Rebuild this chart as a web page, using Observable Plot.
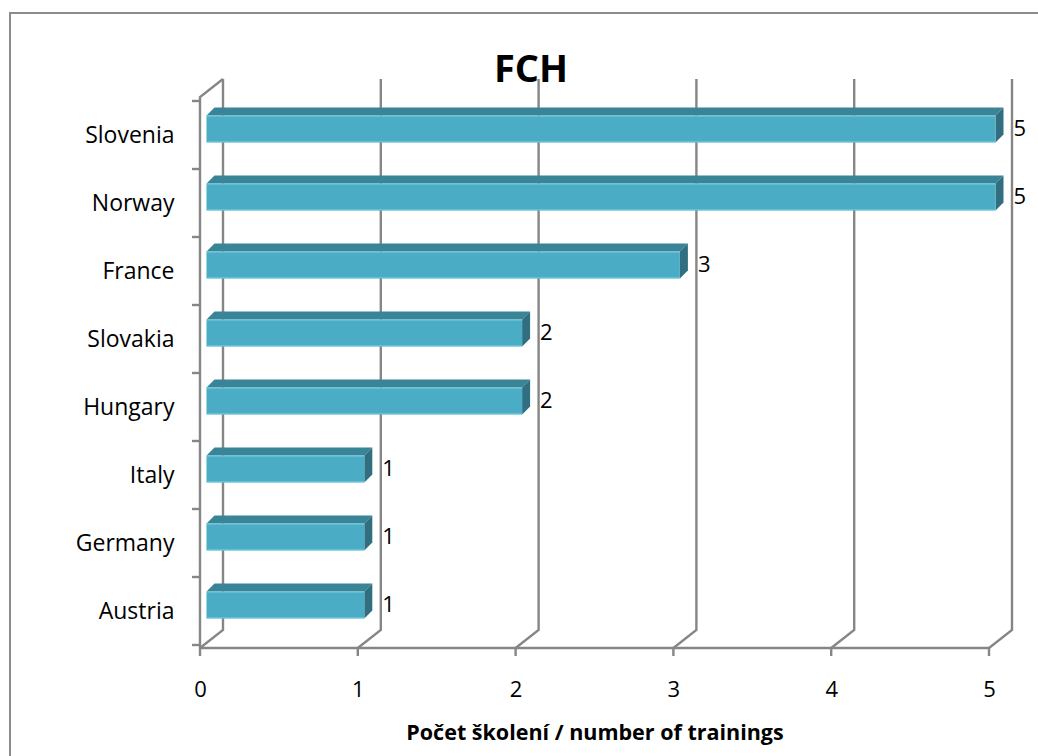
<!DOCTYPE html>
<html>
<head>
<meta charset="utf-8">
<script src="https://cdn.jsdelivr.net/npm/d3@7"></script>
<script src="https://cdn.jsdelivr.net/npm/@observablehq/plot@0.6"></script>
<style>
  html, body { margin: 0; padding: 0; background: #fff; overflow: hidden; }
  #frame { position: absolute; left: 9px; top: 12px; width: 1200px; height: 900px;
           border-left: 2px solid #8c8c8c; border-top: 2px solid #8c8c8c; }
  #chart { position: absolute; left: 0; top: 0; }
</style>
</head>
<body>
<div id="frame"></div>
<div id="chart"></div>
<script>
// ---- data ----
const countries = ["Slovenia", "Norway", "France", "Slovakia", "Hungary", "Italy", "Germany", "Austria"];
const trainings = [5, 5, 3, 2, 2, 1, 1, 1];
const xTicks = [0, 1, 2, 3, 4, 5];
const titleText = "FCH";
const xLabel = "Počet školení / number of trainings";

const rows = countries.map((c, i) => ({country: c, value: trainings[i]}));

// ---- style constants (3D depth look) ----
const GRID = "#868686";
const WALL_DX = 23, WALL_DY = 18;     // depth of the back wall
const BAR_FX = 6.5, BAR_FY = -6;      // front face offset
const BAR_DX = 8, BAR_DY = 8;         // bar depth
const FRONT = "#4bacc6", TOP = "#3a8497", SIDE = "#316f80";

function wallRender(index, scales, values, dims) {
  const x = scales.x, y = scales.y;
  const yb = dims.height - dims.marginBottom, yt = dims.marginTop;
  const g = d3.create("svg:g").attr("fill", "none").attr("stroke", GRID).attr("stroke-width", 2.4);
  const x0 = x(xTicks[0]);
  g.append("path").attr("d", `M${x0},${yb}V${yt}l${WALL_DX},${-WALL_DY}`);
  for (const k of xTicks) {
    const xk = x(k);
    g.append("path").attr("d", `M${xk},${yb}l${WALL_DX},${-WALL_DY}V${yt - WALL_DY}`);
    g.append("path").attr("d", `M${xk},${yb}v8`);
  }
  g.append("path").attr("d", `M${x0},${yb}H${x(xTicks[xTicks.length - 1])}`);
  const bw = y.bandwidth();
  const bounds = countries.map(c => y(c)).concat([y(countries[countries.length - 1]) + bw]);
  for (const b of bounds) g.append("path").attr("d", `M${x0 - 8},${b}H${x0}`);
  return g.node();
}

function barsRender(index, scales, values, dims) {
  const x = scales.x, y = scales.y, bw = y.bandwidth();
  const h = bw * 0.395;
  const g = d3.create("svg:g");
  for (const i of index) {
    const d = rows[i];
    const yc = y(d.country) + bw / 2 + BAR_FY;
    const x0 = x(0) + BAR_FX, x1 = x(d.value) + BAR_FX;
    const t = yc - h / 2, b = yc + h / 2;
    g.append("path").attr("fill", TOP)
      .attr("d", `M${x0},${t}L${x0 + BAR_DX},${t - BAR_DY}H${x1 + BAR_DX}L${x1},${t}Z`);
    g.append("path").attr("fill", SIDE)
      .attr("d", `M${x1},${t}L${x1 + BAR_DX},${t - BAR_DY}V${b - BAR_DY}L${x1},${b}Z`);
    g.append("rect").attr("fill", FRONT)
      .attr("x", x0).attr("y", t).attr("width", x1 - x0).attr("height", h);
    g.append("path").attr("stroke", "#7ccbdc").attr("stroke-width", 1).attr("fill", "none")
      .attr("d", `M${x0},${t + 0.5}H${x1}M${x0},${b - 0.5}H${x1}`);
  }
  return g.node();
}

const chart = Plot.plot({
  width: 1038,
  height: 756,
  marginLeft: 200,
  marginRight: 49,
  marginTop: 97,
  marginBottom: 108,
  style: {fontFamily: "'Open Sans', sans-serif", fontSize: "22px", background: "transparent", overflow: "visible", color: "#000"},
  x: {domain: [0, 5], axis: null},
  y: {domain: countries, padding: 0, axis: null},
  marks: [
    Plot.ruleX(xTicks, {x: d => d, render: wallRender}),
    Plot.barX(rows, {x: "value", y: "country", render: barsRender}),
    Plot.axisY({tickSize: 0, tickPadding: 26, fontSize: 23, label: null}),
    Plot.axisX({ticks: xTicks, tickSize: 0, tickPadding: 33, fontSize: 22, tickFormat: d => String(d), label: null}),
    Plot.text(rows, {x: "value", y: "country", text: d => String(d.value), textAnchor: "start", dx: 24, dy: -7, fontSize: 22}),
    Plot.text([titleText], {frameAnchor: "top", dx: -64, dy: -42, fontSize: 38, fontWeight: "bold"}),
    Plot.text([xLabel], {frameAnchor: "bottom", dy: 91, fontSize: 21.5, fontWeight: "bold"})
  ]
});
document.getElementById("chart").appendChild(chart);
</script>
</body>
</html>
